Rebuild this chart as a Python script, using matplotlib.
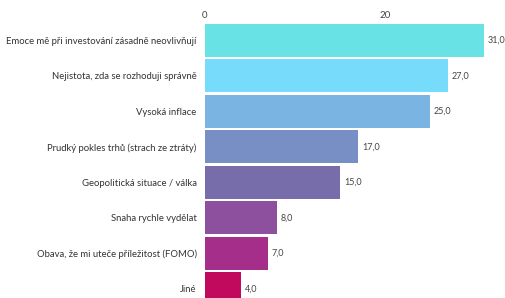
import matplotlib
matplotlib.use("Agg")
import matplotlib.pyplot as plt

categories = [
    "Emoce mě při investování zásadně neovlivňují",
    "Nejistota, zda se rozhoduji správně",
    "Vysoká inflace",
    "Prudký pokles trhů (strach ze ztráty)",
    "Geopolitická situace / válka",
    "Snaha rychle vydělat",
    "Obava, že mi uteče příležitost (FOMO)",
    "Jiné",
]
values = [31.0, 27.0, 25.0, 17.0, 15.0, 8.0, 7.0, 4.0]
colors = ["#68E2E5", "#77DCFB", "#7AB4E3", "#788FC6",
          "#786DAB", "#8C509F", "#A42E8A", "#C10A5E"]
xticks = [0, 20]

plt.rcParams["font.family"] = ["Lato", "DejaVu Sans"]

W, H = 506, 298
fig = plt.figure(figsize=(W / 100, H / 100), dpi=100)
ax = fig.add_axes([205 / W, 0, 301 / W, 278 / H])

ys = list(range(len(values)))
ax.barh(ys, values, height=0.92, color=colors)

for y, v in zip(ys, values):
    ax.text(v + 0.45, y, f"{v:.1f}".replace(".", ","), va="center", ha="left",
            fontsize=6.5, color="#444444")

ax.set_xlim(0, 33.5)
ax.set_ylim(7.26, -0.57)
ax.set_yticks(ys)
ax.set_yticklabels(categories, fontsize=6.8, color="#333333")
ax.set_xticks(xticks)
ax.set_xticklabels([str(t) for t in xticks], fontsize=7, color="#444444")
ax.xaxis.tick_top()
ax.tick_params(axis="both", length=0)
ax.tick_params(axis="y", pad=6)
ax.tick_params(axis="x", pad=0)
for s in ax.spines.values():
    s.set_visible(False)

fig.savefig("out.png", dpi=100)
